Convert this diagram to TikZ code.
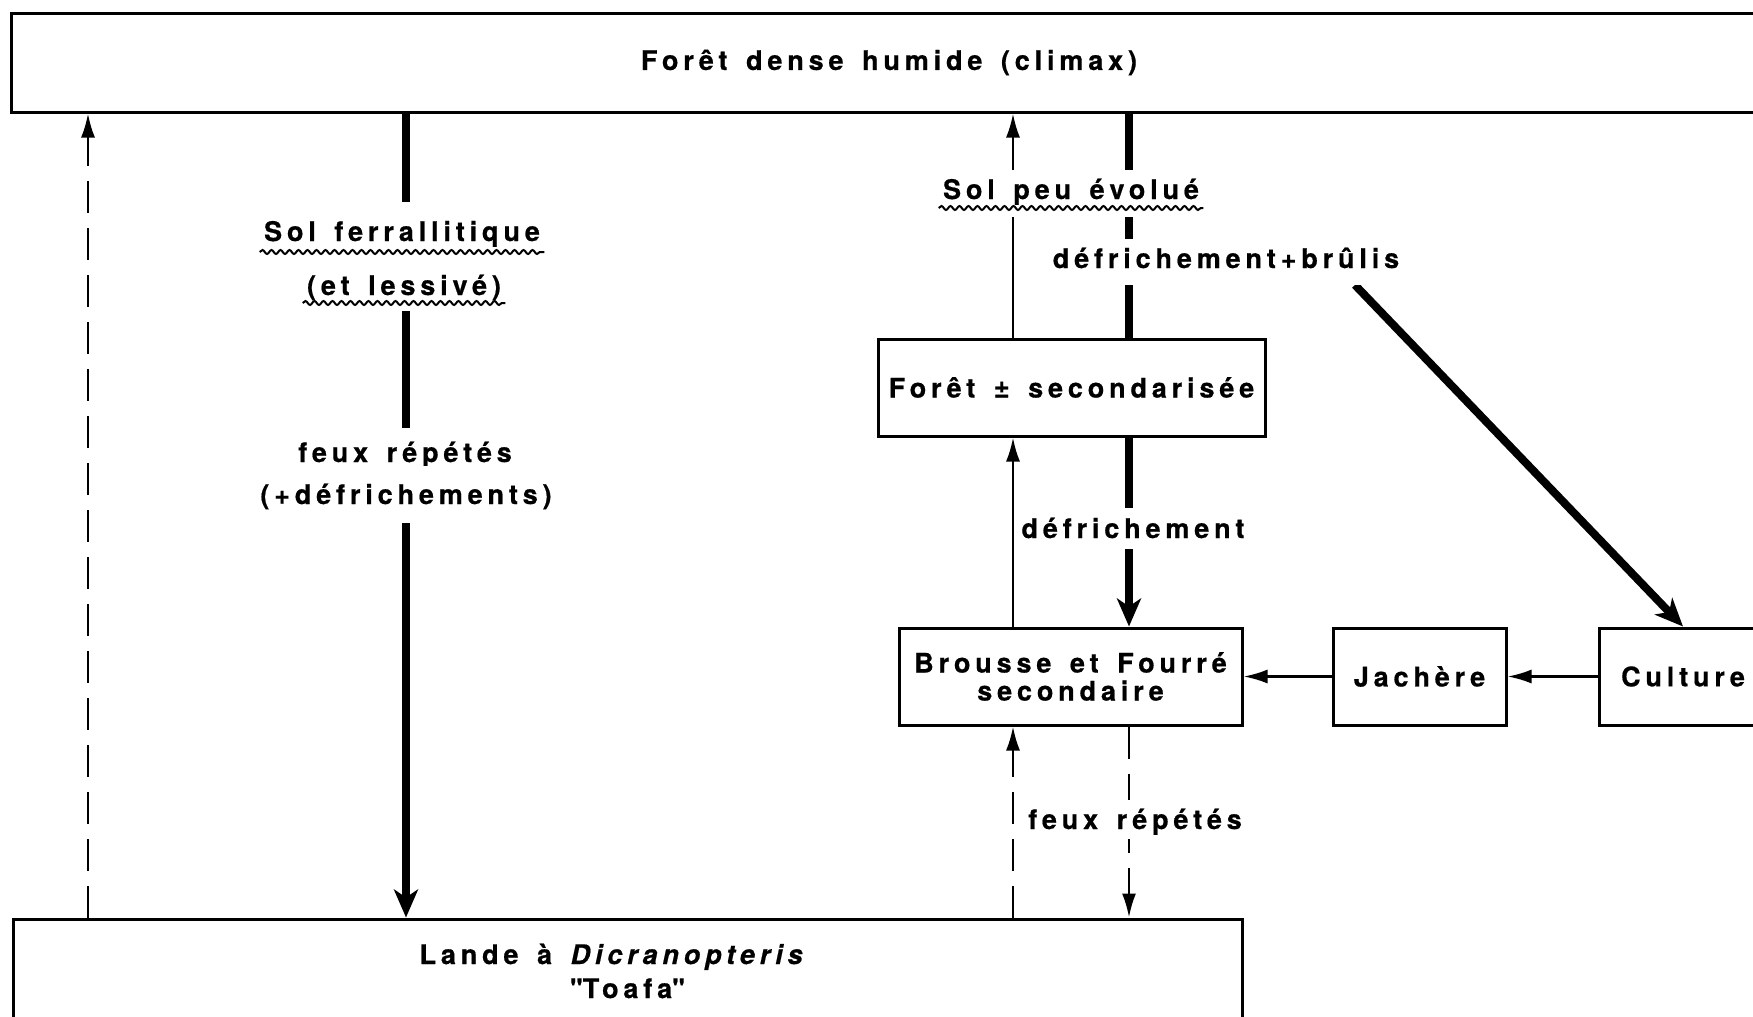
\documentclass[tikz,border=0pt]{standalone}
\usepackage{fontspec}
\setmainfont{TeX Gyre Heros}[LetterSpace=18,WordSpace=1.5,
  BoldFeatures={FakeBold=0.6},BoldItalicFeatures={FakeBold=0.6}]
\usetikzlibrary{arrows.meta,decorations.pathmorphing}
\begin{document}
\begin{tikzpicture}[x=0.5pt,y=-0.5pt,
  every node/.style={font=\bfseries\fontsize{13.5}{15}\selectfont},
  box/.style={draw,line width=1.5pt,inner sep=0pt,align=center},
  thinln/.style={line width=1.2pt},
  heavy/.style={line width=4pt},
  dsh/.style={line width=1.2pt,dash pattern=on 16pt off 7.5pt},
  tipthin/.style={-{Latex[length=12pt,width=7pt]}},
  tipthick/.style={-{Stealth[length=14pt,width=12pt,inset=4pt]}},
  lbl/.style={fill=white,inner xsep=2pt,text height=9.5pt,text depth=0pt,anchor=base},
  wavy/.style={line width=1pt,decorate,decoration={snake,segment length=4.5pt,amplitude=1pt}}
]
\useasboundingbox (0,0) rectangle (1753,1017);
\clip (0,0) rectangle (1753,1017);

% boxes
\node[box,minimum width=878pt,minimum height=49.5pt] (top) at (889,62.5) {Forêt dense humide (climax)};
\node[box,minimum width=614.5pt,minimum height=52pt] (lande) at (627.5,971) {\hspace*{-14pt}Lande à \textit{Dicranopteris}\\[2pt]\textquotedbl Toafa\textquotedbl};
\node[box,minimum width=193.5pt,minimum height=48.5pt] (foret) at (1071.5,387.5) {Forêt ± secondarisée};
\node[box,minimum width=171.5pt,minimum height=48.5pt] (brousse) at (1070.5,676.5) {Brousse et Fourré\\[-1pt]secondaire};
\node[box,minimum width=86.5pt,minimum height=48.5pt] (jachere) at (1419.5,676.5) {Jachère};
\node[box,minimum width=84pt,minimum height=48.5pt] (culture) at (1683,676.5) {Culture};

% columns
\coordinate (xa) at (88,0);
\coordinate (xb) at (406,0);
\coordinate (xc) at (1013,0);
\coordinate (xd) at (1129,0);
\coordinate (dstart) at (1355,285);

% connectors
\draw[dsh,tipthin] (xa|-lande.north) -- (xa|-top.south);
\draw[heavy,tipthick] (xb|-top.south) -- (xb|-lande.north);
\draw[thinln,tipthin] (xc|-foret.north) -- (xc|-top.south);
\draw[heavy] (xd|-top.south) -- (xd|-foret.north);
\draw[thinln,tipthin] (xc|-brousse.north) -- (xc|-foret.south);
\draw[heavy,tipthick] (xd|-foret.south) -- (xd|-brousse.north);
\draw[dsh,tipthin] (xc|-lande.north) -- (xc|-brousse.south);
\draw[dsh,tipthin] (xd|-brousse.south) -- (xd|-lande.north);
\draw[heavy,tipthick] (dstart) -- (culture.north);
\draw[thinln,tipthin] (culture.west) -- (jachere.east);
\draw[thinln,tipthin] (jachere.west) -- (brousse.east);

% labels
\node[lbl,inner ysep=10pt] (solf) at (402,241) {Sol ferrallitique};
\node[lbl,inner ysep=8pt] (lessive) at (404,295) {(et lessivé)};
\node[lbl,inner ysep=7.5pt] (feux1) at (405,462) {feux répétés};
\node[lbl,inner ysep=9.5pt] (defr1) at (406,504) {(+défrichements)};
\node[lbl,inner ysep=5pt,text depth=4pt] (solpeu) at (1071,199) {Sol peu évolué};
\node[lbl,inner ysep=5pt,text depth=3.5pt] (defbrul) at (1226,268) {défrichement+brûlis};
\node[lbl,inner ysep=5.5pt] (defr2) at (1133,538) {défrichement};
\node[lbl,inner ysep=5pt] (feux2) at (1135,829) {feux répétés};

% wavy underlines
\draw[wavy] ([yshift=-5.5pt]solf.base west) -- ([yshift=-5.5pt]solf.base east);
\draw[wavy] ([yshift=-4pt]lessive.base west) -- ([yshift=-4pt]lessive.base east);
\draw[wavy] ([yshift=-4.5pt]solpeu.base west) -- ([yshift=-4.5pt]solpeu.base east);
\end{tikzpicture}
\end{document}
